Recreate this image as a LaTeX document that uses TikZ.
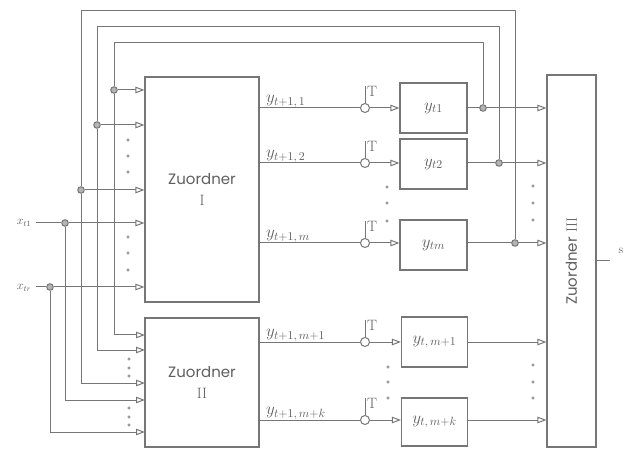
\documentclass[tikz,border=0pt]{standalone}
\usepackage{fix-cm}
\usepackage{fontspec}
\newfontfamily\zfont{Poppins}
\usetikzlibrary{arrows.meta}
\definecolor{ln}{RGB}{118,118,118}
\definecolor{tx}{RGB}{95,95,95}
\tikzset{
  box/.style={draw=ln, line width=1.1pt, inner sep=0pt, text=tx},
  arr/.style={-{Triangle[open,length=9pt,width=6.5pt]}},
  jdot/.style={circle, draw=ln, fill=ln!55, minimum size=6.5pt, inner sep=0pt},
  tc/.style={circle, draw=ln, fill=white, minimum size=9pt, inner sep=0pt},
  sdot/.style={circle, draw=ln, line width=0.5pt, minimum size=2.4pt, inner sep=0pt},
  lab/.style={text=tx, inner sep=1pt, font=\fontsize{17}{19}\selectfont},
  ylab/.style={font=\fontsize{17}{19}\selectfont},
  zt/.style={text=tx, align=center, font=\fontsize{15}{21}\selectfont},
}
\begin{document}
\begin{tikzpicture}[x=1pt,y=-1pt, line width=1pt, draw=ln, color=ln]
\useasboundingbox (0,0) rectangle (627,449);

% main blocks
\node[box, minimum width=114pt, minimum height=225pt] (z1) at (202,189.5) {};
\node[zt] (z1t) at (z1.center) {{\zfont Zuordner}\\ I};
\node[box, minimum width=114pt, minimum height=129pt] (z2) at (202,382.5) {};
\node[zt] (z2t) at (z2.center) {{\zfont Zuordner}\\ II};
\node[box, minimum width=49pt, minimum height=372pt] (z3) at (571.5,261) {};
\node[zt, rotate=90] (z3t) at (z3.center) {{\zfont Zuordner} III};

% state boxes
\node[box, ylab, minimum width=67pt, minimum height=50pt] (yt1) at (433.5,108) {$y_{t1}$};
\node[box, ylab, minimum width=67pt, minimum height=50pt] (yt2) at (433.5,164) {$y_{t2}$};
\node[box, ylab, minimum width=67pt, minimum height=50pt] (ytm) at (433.5,245) {$y_{tm}$};
\node[box, ylab, minimum width=66pt, minimum height=50pt] (ytm1) at (434.5,342) {$y_{t,\,m+1}$};
\node[box, ylab, minimum width=66pt, minimum height=48pt] (ytmk) at (434.5,422) {$y_{t,\,m+k}$};

% clock circles
\node[tc] (c1) at (365,108) {};
\node[tc] (c2) at (365,163) {};
\node[tc] (c3) at (365,243) {};
\node[tc] (c4) at (365,342) {};
\node[tc] (c5) at (365,420) {};

% outputs of Zuordner I and II
\foreach \c/\lab in {c1/{y_{t+1,\,1}}, c2/{y_{t+1,\,2}}, c3/{y_{t+1,\,m}}}{
  \draw (\c.west -| z1.east) -- (\c.west);
  \node[lab, anchor=south west] (l\c) at ([xshift=5pt,yshift=-1pt]\c.west -| z1.east) {$\lab$};
}
\foreach \c/\lab in {c4/{y_{t+1,\,m+1}}, c5/{y_{t+1,\,m+k}}}{
  \draw (\c.west -| z2.east) -- (\c.west);
  \node[lab, anchor=south west] (l\c) at ([xshift=5pt,yshift=-1pt]\c.west -| z2.east) {$\lab$};
}
% clock lines
\foreach \c in {c1,c2,c3,c4,c5}{
  \draw (\c.north) -- ++(0,-17) coordinate (t\c);
  \node[text=tx, anchor=west, inner sep=1.5pt, font=\fontsize{15}{17}\selectfont] (T\c) at ([yshift=-5pt]t\c) {T};
}
% circle to boxes
\draw[arr] (c1.east) -- (c1 -| yt1.west);
\draw[arr] (c2.east) -- (c2 -| yt2.west);
\draw[arr] (c3.east) -- (c3 -| ytm.west);
\draw[arr] (c4.east) -- (c4 -| ytm1.west);
\draw[arr] (c5.east) -- (c5 -| ytmk.west);

% boxes to Zuordner III
\draw[arr] (c1 -| yt1.east) -- (c1 -| z3.west);
\draw[arr] (c2 -| yt2.east) -- (c2 -| z3.west);
\draw[arr] (c3 -| ytm.east) -- (c3 -| z3.west);
\draw[arr] (c4 -| ytm1.east) -- (c4 -| z3.west);
\draw[arr] (c5 -| ytmk.east) -- (c5 -| z3.west);

% output s
\coordinate (so) at (610,261);
\draw (so -| z3.east) -- (so);
\node[text=tx, font=\fontsize{12}{14}\selectfont] (s) at (621,251) {s};

% feedback junctions
\node[jdot] (j1) at (483,108) {};
\node[jdot] (j2) at (499,163) {};
\node[jdot] (j3) at (515,243) {};
\node[jdot] (d1) at (114,90) {};
\node[jdot] (d2) at (97,125) {};
\node[jdot] (d3) at (81,190) {};
\coordinate (r1) at (483,43);  \coordinate (l1) at (114,43);
\coordinate (r2) at (499,27);  \coordinate (l2) at (97,27);
\coordinate (r3) at (515,11);  \coordinate (l3) at (81,11);
\coordinate (e1) at (145,335);
\coordinate (e2) at (145,350);
\coordinate (e3) at (145,383);
\coordinate (e4) at (145,400);
\coordinate (e5) at (145,432);
\draw (j1) -- (r1) -- (l1) -- (d1);
\draw (j2) -- (r2) -- (l2) -- (d2);
\draw (j3) -- (r3) -- (l3) -- (d3);
\draw[arr] (d1) -- (d1 -| z1.west);
\draw[arr] (d2) -- (d2 -| z1.west);
\draw[arr] (d3) -- (d3 -| z1.west);
\draw[arr] (d1) |- (e1);
\draw[arr] (d2) |- (e2);
\draw[arr] (d3) |- (e3);

% inputs
\node[text=tx, font=\fontsize{12}{14}\selectfont, inner sep=1pt] (x1) at (24,223) {$x_{t1}$};
\node[text=tx, font=\fontsize{12}{14}\selectfont, inner sep=1pt] (x2) at (24,288) {$x_{tr}$};
\node[jdot] (dx1) at (65,223) {};
\node[jdot] (dx2) at (50,287) {};
\draw (x1.east |- dx1) ++(3pt,0) coordinate (x1s) -- (dx1);
\draw (x2.east |- dx2) ++(3pt,0) coordinate (x2s) -- (dx2);
\draw[arr] (dx1) -- (dx1 -| z1.west);
\draw[arr] (dx2) -- (dx2 -| z1.west);
\draw[arr] (dx1) |- (e4);
\draw[arr] (dx2) |- (e5);

% ellipsis dots
\foreach \x/\y in {128/140,128/156,128/172, 128/237,128/253,128/270,
                   129/359,129/368,129/376, 129/408,129/417,129/425,
                   387/187,387/203,387/221, 388/367,388/382,388/398,
                   533/186,533/203,533/220, 533/365,533/382,533/398}{
  \node[sdot] at (\x,\y) {};
}
\end{tikzpicture}
\end{document}
